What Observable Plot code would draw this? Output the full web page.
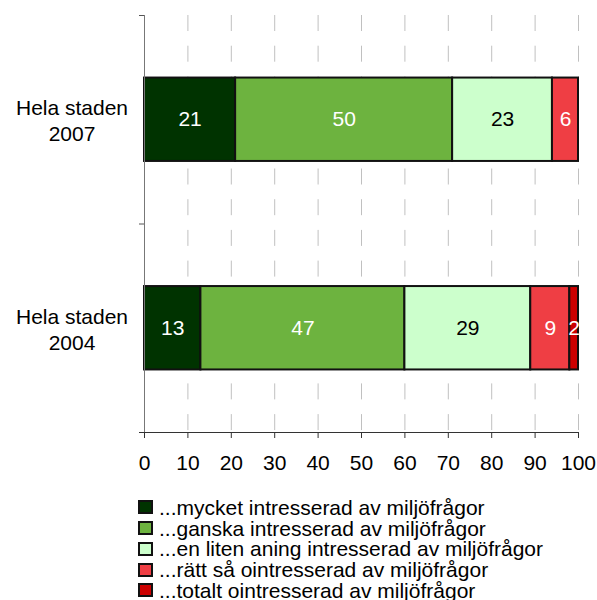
<!DOCTYPE html>
<html>
<head>
<meta charset="utf-8">
<script src="https://cdn.jsdelivr.net/npm/d3@7"></script>
<script src="https://cdn.jsdelivr.net/npm/@observablehq/plot@0.6"></script>
<style>
  body { margin: 0; background: #fff; font-family: "Liberation Sans", Arial, sans-serif; }
  #legend { margin-top: 18px; margin-left: 138px; font-size: 21px; color: #000; }
  #legend .row { height: 20.7px; line-height: 20.7px; white-space: nowrap; }
  #legend .sw { display: inline-block; width: 15px; height: 14px; box-sizing: border-box; border: 2px solid #111; vertical-align: middle; margin-right: 6px; position: relative; top: -2px; }
</style>
</head>
<body>
<div id="chart"></div>
<div id="legend"></div>
<script>
const categories = ["Hela staden\n2007", "Hela staden\n2004"];
const seriesNames = [
  "...mycket intresserad av miljöfrågor",
  "...ganska intresserad av miljöfrågor",
  "...en liten aning intresserad av miljöfrågor",
  "...rätt så ointresserad av miljöfrågor",
  "...totalt ointresserad av miljöfrågor"
];
const seriesColors = ["#003300", "#6db33f", "#ccffcc", "#ef3e44", "#cc0000"];
const labelColors = ["white", "white", "black", "white", "white"];
const values2007 = [21, 50, 23, 6, 0];
const values2004 = [13, 47, 29, 9, 2];
const xTicks = [0, 10, 20, 30, 40, 50, 60, 70, 80, 90, 100];

const valuesByCat = [values2007, values2004];
const rows = [];
categories.forEach((c, i) => {
  valuesByCat[i].forEach((v, s) => {
    if (v > 0) rows.push({cat: c, i, s, value: v});
  });
});

const chart = Plot.plot({
  width: 597,
  height: 480,
  marginLeft: 144,
  marginRight: 19,
  marginTop: 15,
  marginBottom: 48,
  style: {fontFamily: '"Liberation Sans", Arial, sans-serif', fontSize: "21px", color: "#000", background: "#fff"},
  x: {domain: [0, 100], axis: null},
  y: {domain: [0, 2], reverse: true, axis: null},
  color: {type: "identity"},
  marks: [
    Plot.ruleX(xTicks.filter(d => d > 0), {stroke: "#c0c0c0", strokeWidth: 1, strokeDasharray: "16,14.7"}),
    Plot.rectX(rows, Plot.stackX({
      x: "value",
      y1: d => d.i + 0.3,
      y2: d => d.i + 0.7,
      fill: d => seriesColors[d.s],
      stroke: "#111",
      strokeWidth: 2,
      order: null
    })),
    Plot.text(rows, Plot.stackX({
      x: "value",
      y: d => d.i + 0.5,
      text: d => String(d.value),
      fill: d => labelColors[d.s],
      fontSize: 21,
      order: null
    })),
    Plot.ruleX([0], {stroke: "#777", strokeWidth: 1}),
    Plot.ruleY([0, 1], {x1: -1.15, x2: 0, stroke: "#555", strokeWidth: 1}),
    Plot.ruleY([2], {x1: -1.15, x2: 100, stroke: "#333", strokeWidth: 1}),
    Plot.axisX(xTicks, {tickSize: 6, tickPadding: 17, stroke: "#333", fontSize: 21, label: null, tickFormat: d => String(d)}),
    Plot.text(categories, {
      y: (d, i) => i + 0.5,
      text: d => d,
      frameAnchor: "left",
      dx: -72.5,
      textAnchor: "middle",
      lineHeight: 1.24,
      fontSize: 21,
      fill: "#000"
    })
  ]
});
document.getElementById("chart").appendChild(chart);

const legend = document.getElementById("legend");
seriesNames.forEach((name, s) => {
  const row = document.createElement("div");
  row.className = "row";
  const sw = document.createElement("span");
  sw.className = "sw";
  sw.style.background = seriesColors[s];
  row.appendChild(sw);
  row.appendChild(document.createTextNode(name));
  legend.appendChild(row);
});
</script>
</body>
</html>
